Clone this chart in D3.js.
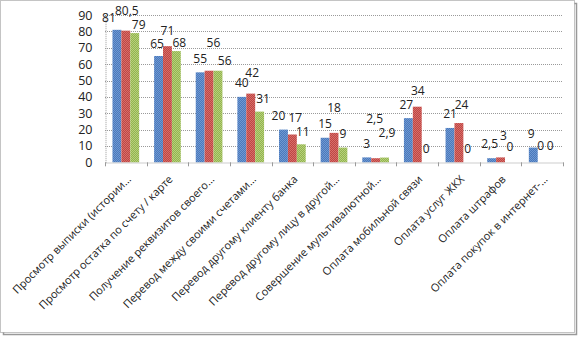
<!DOCTYPE html>
<html><head><meta charset="utf-8">
<script src="https://cdn.jsdelivr.net/npm/d3@7"></script>
<style>
html,body{margin:0;padding:0;background:#fff;}
svg{display:block;}
text{font-family:"Open Sans","DejaVu Sans",sans-serif;fill:#222;}
</style></head>
<body>
<svg id="chart" width="578" height="337"></svg>
<script>
const categories = [
  "Просмотр выписки (истории…",
  "Просмотр остатка по счету / карте",
  "Получение реквизитов своего…",
  "Перевод между своими счетами…",
  "Перевод другому клиенту банка",
  "Перевод другому лицу в другой…",
  "Совершение мультивалютной…",
  "Оплата мобильной связи",
  "Оплата услуг ЖКХ",
  "Оплата штрафов",
  "Оплата покупок в интернет-…"
];
const seriesBlue  = [81, 65, 55, 40, 20, 15, 3, 27, 21, 2.5, 9];
const seriesRed   = [80.5, 71, 56, 42, 17, 18, 2.5, 34, 24, 3, 0];
const seriesGreen = [79, 68, 56, 31, 11, 9, 2.9, 0, 0, 0, 0];
const yTicks = [0, 10, 20, 30, 40, 50, 60, 70, 80, 90];

// label placement nudges (layout only, px)
const nudgeBlue  = [[-8,1.5],[-1.5,1.5],[0,0],[0,0],[-5,0],[0,0],[0,0],[-2,1],[0,0],[-2,0],[-2,0]];
const nudgeRed   = [[1,-5.5],[0,-1.5],[4.4,-14],[1.5,-7],[3,-3],[0,-10.6],[-1,-25],[0.5,-1.5],[2.6,-4],[3,-7.6],[-1.5,-2.5]];
const nudgeGreen = [[4,6],[3,6],[6.7,4.3],[3.5,1],[1.5,1.5],[0,0],[2.5,-11],[0,0],[0,0],[0.5,-2],[-1,-2.5]];

const series = [
  {name:"s1", values: seriesBlue,  nudge: nudgeBlue,  c1:"#4a79bb", c2:"#6f98d2"},
  {name:"s2", values: seriesRed,   nudge: nudgeRed,   c1:"#bd4744", c2:"#d86d69"},
  {name:"s3", values: seriesGreen, nudge: nudgeGreen, c1:"#93b44e", c2:"#b6d07c"}
];

const svg = d3.select("#chart");
const defs = svg.append("defs");
series.forEach((s,i)=>{
  const p = defs.append("pattern").attr("id","pat"+i).attr("width",2).attr("height",2)
    .attr("patternUnits","userSpaceOnUse");
  p.append("rect").attr("width",2).attr("height",2).attr("fill",s.c1);
  p.append("rect").attr("width",1).attr("height",1).attr("fill",s.c2);
  p.append("rect").attr("x",1).attr("y",1).attr("width",1).attr("height",1).attr("fill",s.c2);
});

// frame with shadow
svg.append("rect").attr("x",3.5).attr("y",3.5).attr("width",573).attr("height",331)
  .attr("fill","none").attr("stroke","#999").attr("stroke-width",1.5);
svg.append("rect").attr("x",0.5).attr("y",0.5).attr("width",574).attr("height",332)
  .attr("fill","#fff").attr("stroke","#888").attr("stroke-dasharray","1,1");

const left = 105, right = 563;
const y = d3.scaleLinear().domain([0,90]).range([162.3, 15.1]);
const x = d3.scaleBand().domain(categories).range([left,right]).padding(0);
const bw = x.bandwidth();
const barW = bw/4.68;
const gStart = (bw - 3*barW)/2;
const xs = d3.scaleBand().domain(series.map(s=>s.name)).range([gStart, gStart+3*barW]).padding(0);

// gridlines
svg.append("g").selectAll("line").data(yTicks.slice(1)).join("line")
  .attr("x1",left).attr("x2",right).attr("y1",d=>Math.round(y(d))+0.5).attr("y2",d=>Math.round(y(d))+0.5)
  .attr("stroke","#9a9a9a").attr("stroke-dasharray","1,1");

// y axis
const yAxis = d3.axisLeft(y).tickValues(yTicks).tickSize(0).tickPadding(13);
const gy = svg.append("g").attr("transform",`translate(${left+0.5},0)`).call(yAxis);
gy.select(".domain").attr("stroke","#9a9a9a").attr("stroke-dasharray","1,1");
gy.selectAll("text").style("font-size","12.5px").attr("fill","#222");

// bars
series.forEach((s,si)=>{
  svg.append("g").selectAll("rect").data(s.values).join("rect")
    .attr("x",(d,i)=>x(categories[i])+xs(s.name))
    .attr("y",d=>y(d))
    .attr("width",barW)
    .attr("height",d=>y(0)-y(d))
    .attr("fill",`url(#pat${si})`);
});

// x axis
const xAxis = d3.axisBottom(x).tickSize(0).tickFormat("");
const gx = svg.append("g").attr("transform",`translate(0,${Math.round(y(0))+0.5})`).call(xAxis);
gx.select(".domain").attr("stroke","#9a9a9a").attr("stroke-dasharray","1,1");
svg.append("g").selectAll("line").data(d3.range(categories.length+1)).join("line")
  .attr("x1",i=>Math.round(left+i*bw)+0.5).attr("x2",i=>Math.round(left+i*bw)+0.5)
  .attr("y1",y(0)).attr("y2",y(0)+4).attr("stroke","#9a9a9a");

// category labels
svg.append("g").selectAll("text").data(categories).join("text")
  .attr("transform",d=>`translate(${x(d)+bw/2+6},${180}) rotate(-45)`)
  .attr("text-anchor","end")
  .style("font-size","11px")
  .text(d=>d);

// value labels
const fmt = v => String(v).replace(".", ",");
series.forEach(s=>{
  svg.append("g").selectAll("text").data(s.values).join("text")
    .attr("x",(d,i)=>x(categories[i])+xs(s.name)+barW/2 + s.nudge[i][0])
    .attr("y",(d,i)=>y(d)-14 + s.nudge[i][1])
    .attr("dy","0.35em")
    .attr("text-anchor","middle")
    .style("font-size","12px")
    .text(d=>fmt(d));
});
</script>
</body></html>
